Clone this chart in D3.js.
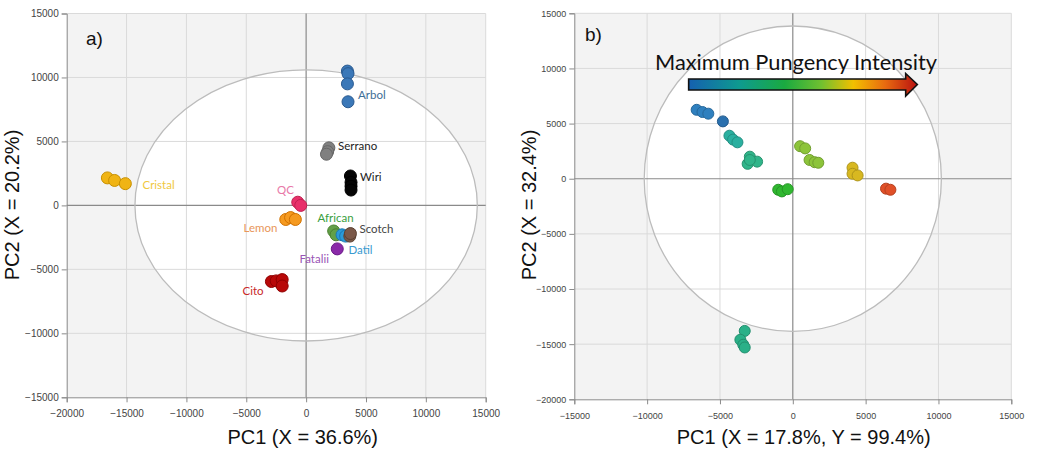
<!DOCTYPE html>
<html><head><meta charset="utf-8">
<script src="https://cdn.jsdelivr.net/npm/d3@7"></script>
<style>
html,body{margin:0;padding:0;background:#fff;}
svg{display:block;}
</style></head>
<body>
<svg id="chart" width="1041" height="450"></svg>
<script>
// ---------- DATA: panel a) PCA scores by pepper ----------
const groupsA = ["Arbol","Serrano","Wiri","Cristal","QC","Lemon","African","Datil","Scotch","Fatalii","Cito"];
const arbol   = [[3450,10500],[3500,10300],[3450,9500],[3500,8100]];
const serrano = [[1900,4500],[1800,4200],[1700,4000]];
const wiri    = [[3700,2300],[3750,1800],[3750,1500],[3750,1200]];
const cristal = [[-16600,2150],[-16000,1950],[-15100,1700]];
const qc      = [[-700,250],[-450,0]];
const lemon   = [[-1700,-1100],[-1300,-950],[-900,-1100]];
const african = [[2300,-2000],[2500,-2300]];
const datil   = [[3000,-2300],[3300,-2400]];
const scotch  = [[3650,-2400],[3700,-2200]];
const fatalii = [[2600,-3400]];
const cito    = [[-2900,-5950],[-2500,-5900],[-2000,-5800],[-2000,-6300]];
const scoresA = [arbol,serrano,wiri,cristal,qc,lemon,african,datil,scotch,fatalii,cito];

// ---------- DATA: panel b) PCA scores, groups ordered by pungency ----------
const groupsB = ["g1","g2","g3","g4","g5","g6","g7","g8","g9"];
const b1 = [[-6600,6250],[-6200,6050],[-5800,5900]];
const b2 = [[-4800,5200]];
const b3 = [[-4350,3900],[-4100,3550],[-3800,3300]];
const b4 = [[-2950,2000],[-3100,1350],[-2450,1550],[-2950,1700]];
const b5 = [[-1000,-1000],[-750,-1150],[-350,-950]];
const b6 = [[500,2950],[850,2750],[1150,1700],[1500,1500],[1750,1450]];
const b7 = [[4100,1000],[4100,450],[4450,300]];
const b8 = [[6400,-900],[6700,-1000]];
const b9 = [[-3300,-13800],[-3600,-14600],[-3400,-15050],[-3300,-15300]];
const scoresB = [b1,b2,b3,b4,b5,b6,b7,b8,b9];

// tick values
const xTicksA = [-20000,-15000,-10000,-5000,0,5000,10000,15000];
const yTicksA = [-15000,-10000,-5000,0,5000,10000,15000];
const xTicksB = [-15000,-10000,-5000,0,5000,10000,15000];
const yTicksB = [-20000,-15000,-10000,-5000,0,5000,10000,15000];
// confidence ellipse radii (data units)
const ellipseA = [14300,10600];
const ellipseB = [10200,13850];

// ---------- STYLES ----------
const colorsA = {Arbol:["#3b78b8","#2a5a90"],Serrano:["#808080","#666"],Wiri:["#050505","#000"],
  Cristal:["#f0b414","#c89000"],QC:["#e8306a","#c02050"],Lemon:["#f59a20","#d07000"],
  African:["#62a048","#4a8030"],Datil:["#2a9ad8","#1a78b0"],Scotch:["#7a5848","#5a4030"],
  Fatalii:["#8a2aa8","#6a1a88"],Cito:["#b80808","#900000"]};
const labelStyle = {
  Arbol:{x:358,y:99,c:"#3d6e96"}, Serrano:{x:338,y:150,c:"#222"}, Wiri:{x:360,y:181,c:"#222"},
  Cristal:{x:142.5,y:189,c:"#f0c840"}, QC:{x:277,y:194,c:"#e878a8"}, Lemon:{x:243.5,y:231.5,c:"#e8965a"},
  African:{x:317.5,y:221.5,c:"#3aa040"}, Scotch:{x:359.5,y:233,c:"#444"}, Datil:{x:348.5,y:254,c:"#3a9ad0"},
  Fatalii:{x:299.5,y:263,c:"#9a55b5"}, Cito:{x:242.5,y:295,c:"#c82828"}};
const colorsB = ["#2f80bf","#2a70ae","#2ab0a0","#30b58a","#30b830","#8cc43a","#d8b820","#e05028","#2ab088"];

const svg = d3.select("#chart");

function panel(opt){
  const g = svg.append("g");
  const x = d3.scaleLinear().domain(opt.xd).range(opt.xr);
  const y = d3.scaleLinear().domain(opt.yd).range(opt.yr);
  g.append("rect").attr("x",opt.xr[0]).attr("y",opt.yr[1])
    .attr("width",opt.xr[1]-opt.xr[0]).attr("height",opt.yr[0]-opt.yr[1]).attr("fill","#f3f3f3");
  const ex = Math.abs(x(opt.ell[0])-x(0)), ey = Math.abs(y(opt.ell[1])-y(0));
  g.append("ellipse").attr("cx",x(0)).attr("cy",y(0)).attr("rx",ex).attr("ry",ey).attr("fill","#fff");
  // grid
  g.selectAll(".gx").data(opt.xt.filter(v=>v!==0 && v!==opt.xd[0])).enter().append("line")
    .attr("x1",d=>x(d)).attr("x2",d=>x(d)).attr("y1",opt.yr[0]).attr("y2",opt.yr[1])
    .attr("stroke","#dadada").attr("stroke-width",1);
  g.selectAll(".gy").data(opt.yt.filter(v=>v!==0 && v!==opt.yd[0])).enter().append("line")
    .attr("y1",d=>y(d)).attr("y2",d=>y(d)).attr("x1",opt.xr[0]).attr("x2",opt.xr[1])
    .attr("stroke","#dadada").attr("stroke-width",1);
  // zero lines
  g.append("line").attr("x1",x(0)).attr("x2",x(0)).attr("y1",opt.yr[0]).attr("y2",opt.yr[1]).attr("stroke","#8a8a8a").attr("stroke-width",1.2);
  g.append("line").attr("y1",y(0)).attr("y2",y(0)).attr("x1",opt.xr[0]).attr("x2",opt.xr[1]).attr("stroke","#8a8a8a").attr("stroke-width",1.2);
  g.append("ellipse").attr("cx",x(0)).attr("cy",y(0)).attr("rx",ex).attr("ry",ey)
    .attr("fill","none").attr("stroke","#bcbcbc").attr("stroke-width",1.3);
  // axes
  const minorX = d3.range(opt.xd[0],opt.xd[1]+1,1000), minorY = d3.range(opt.yd[0],opt.yd[1]+1,1000);
  const ax = g.append("g").attr("transform",`translate(0,${opt.yr[0]})`);
  ax.call(d3.axisBottom(x).tickValues(minorX).tickSize(3).tickFormat(""));
  ax.call(d3.axisBottom(x).tickValues(opt.xt).tickSize(5).tickPadding(8).tickFormat(d3.format("d")));
  const ay = g.append("g").attr("transform",`translate(${opt.xr[0]},0)`);
  ay.call(d3.axisLeft(y).tickValues(minorY).tickSize(3).tickFormat(""));
  ay.call(d3.axisLeft(y).tickValues(opt.yt).tickSize(5).tickPadding(3).tickFormat(d3.format("d")));
  [ax,ay].forEach(a=>{
    a.selectAll("path.domain").attr("stroke","#8a8a8a");
    a.selectAll("line").attr("stroke","#8a8a8a");
    a.selectAll("text").attr("fill","#444").attr("font-size",opt.tf).attr("font-family","Liberation Sans, Arial, sans-serif");
  });
  return {g,x,y};
}

// ---------- Panel a ----------
const A = panel({xd:[-20000,15000],xr:[66.7,485.7],yd:[-15000,15000],yr:[397.3,13.5],
  xt:xTicksA,yt:yTicksA,ell:ellipseA,tf:"10px"});
groupsA.forEach((name,i)=>{
  A.g.selectAll(null).data(scoresA[i]).enter().append("circle")
    .attr("cx",d=>A.x(d[0])).attr("cy",d=>A.y(d[1])).attr("r",6)
    .attr("fill",colorsA[name][0]).attr("stroke",colorsA[name][1]).attr("stroke-width",1);
});
groupsA.forEach(name=>{
  const s = labelStyle[name];
  A.g.append("text").attr("x",s.x).attr("y",s.y).text(name).attr("fill",s.c)
    .attr("font-size","11.5px").attr("font-family","Lato, Liberation Sans, sans-serif");
});
svg.append("text").attr("x",86).attr("y",45).text("a)").attr("font-size","19px")
  .attr("font-family","Liberation Sans, Arial, sans-serif").attr("fill","#111");
svg.append("text").attr("x",302.7).attr("y",444).attr("text-anchor","middle").text("PC1 (X = 36.6%)")
  .attr("font-size","20px").attr("font-family","Liberation Sans, Arial, sans-serif").attr("fill","#111");
svg.append("text").attr("transform","translate(19,205) rotate(-90)").attr("text-anchor","middle").text("PC2 (X = 20.2%)")
  .attr("font-size","20px").attr("font-family","Liberation Sans, Arial, sans-serif").attr("fill","#111");

// ---------- Panel b ----------
const B = panel({xd:[-15000,15000],xr:[574.3,1011.3],yd:[-20000,15000],yr:[399.3,13.3],
  xt:xTicksB,yt:yTicksB,ell:ellipseB,tf:"9px"});
groupsB.forEach((name,i)=>{
  B.g.selectAll(null).data(scoresB[i]).enter().append("circle")
    .attr("cx",d=>B.x(d[0])).attr("cy",d=>B.y(d[1])).attr("r",5.5)
    .attr("fill",colorsB[i]).attr("stroke",d3.color(colorsB[i]).darker(0.6)).attr("stroke-width",1);
});
// gradient arrow
const defs = svg.append("defs");
const grad = defs.append("linearGradient").attr("id","pung").attr("x1","0%").attr("x2","100%");
[["0%","#1560b0"],["22%","#0e9a90"],["42%","#1aaa40"],["58%","#70c030"],["72%","#f2c000"],["86%","#e86a10"],["100%","#b81010"]]
  .forEach(s=>grad.append("stop").attr("offset",s[0]).attr("stop-color",s[1]));
const ax0 = B.x(-7150), axH = B.x(7750), axT = B.x(8550);
const yb1 = 79, yb2 = 90, yh1 = 73.5, yh2 = 96;
B.g.append("path")
  .attr("d",`M${ax0},${yb1} L${axH},${yb1} L${axH},${yh1} L${axT},${(yb1+yb2)/2} L${axH},${yh2} L${axH},${yb2} L${ax0},${yb2} Z`)
  .attr("fill","url(#pung)").attr("stroke","#111").attr("stroke-width",1.6);
B.g.append("text").attr("x",655).attr("y",70).text("Maximum Pungency Intensity")
  .attr("font-size","21px").attr("font-family","Lato, Open Sans, sans-serif").attr("fill","#111")
  .attr("textLength",282).attr("lengthAdjust","spacingAndGlyphs");
svg.append("text").attr("x",585).attr("y",41).text("b)").attr("font-size","19px")
  .attr("font-family","Liberation Sans, Arial, sans-serif").attr("fill","#111");
svg.append("text").attr("x",803.7).attr("y",444).attr("text-anchor","middle").text("PC1 (X = 17.8%, Y = 99.4%)")
  .attr("font-size","20px").attr("font-family","Liberation Sans, Arial, sans-serif").attr("fill","#111");
svg.append("text").attr("transform","translate(536,205) rotate(-90)").attr("text-anchor","middle").text("PC2 (X = 32.4%)")
  .attr("font-size","20px").attr("font-family","Liberation Sans, Arial, sans-serif").attr("fill","#111");
</script>
</body></html>
